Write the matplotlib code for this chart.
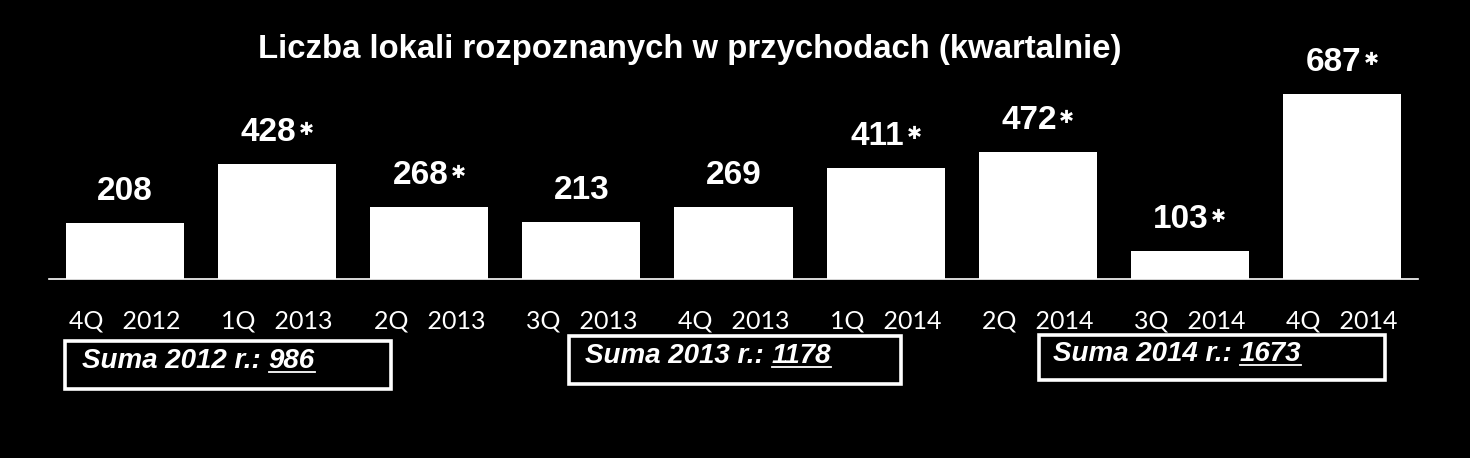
import matplotlib
matplotlib.use("Agg")
import matplotlib.pyplot as plt
from matplotlib.patches import Rectangle
from matplotlib.lines import Line2D

# ---- data ----
categories = ["4Q   2012", "1Q   2013", "2Q   2013", "3Q   2013", "4Q   2013",
              "1Q   2014", "2Q   2014", "3Q   2014", "4Q   2014"]
values = [208, 428, 268, 213, 269, 411, 472, 103, 687]
starred = [False, True, True, False, False, True, True, True, True]
title = "Liczba lokali rozpoznanych w przychodach (kwartalnie)"
sum_labels = ["Suma 2012 r.: ", "Suma 2013 r.: ", "Suma 2014 r.: "]
sum_values = ["986", "1178", "1673"]

W, H = 1470, 458
fig = plt.figure(figsize=(W / 100, H / 100), dpi=100, facecolor="black")

def fx(x):
    return x / W

def fy(y):
    return 1 - y / H

ax = fig.add_axes([fx(49), fy(279), fx(1418) - fx(49), 279 / H])
ax.set_facecolor("black")
x = list(range(len(values)))
ax.bar(x, values, width=0.776, color="white", edgecolor="none")
ax.set_xlim(-0.5, len(values) - 0.5)
ax.set_ylim(0, 1036)
for s in ["top", "left", "right"]:
    ax.spines[s].set_visible(False)
ax.spines["bottom"].set_color("white")
ax.spines["bottom"].set_linewidth(1.2)
ax.set_yticks([])
ax.set_xticks(x)
ax.set_xticklabels(categories, color="white", fontsize=18, family="Lato")
ax.tick_params(axis="x", length=0, pad=22)

for xi, v, st in zip(x, values, starred):
    if st:
        ax.annotate(str(v), (xi, v), xytext=(19, 23), textcoords="offset pixels",
                    ha="right", va="baseline", color="white", fontsize=24,
                    fontweight="bold", family="Liberation Sans")
        ax.annotate("\u2731", (xi, v), xytext=(29, 34), textcoords="offset pixels",
                    ha="center", va="center", color="white", fontsize=13,
                    family="DejaVu Sans")
    else:
        ax.annotate(str(v), (xi, v), xytext=(0, 23), textcoords="offset pixels",
                    ha="center", va="baseline", color="white", fontsize=24,
                    fontweight="bold", family="Liberation Sans")

fig.text(fx(690), fy(58), title, ha="center", va="baseline", color="white",
         fontsize=23.7, fontweight="bold", family="Liberation Sans")

# summary boxes
boxes = [(63, 339, 392, 390, 82, 368), (567, 334, 903, 385, 585, 363),
         (1037, 333, 1386, 381, 1053, 361)]
fig.canvas.draw()
renderer = fig.canvas.get_renderer()
for (x0, y0, x1, y1, tx, ty), lab, val in zip(boxes, sum_labels, sum_values):
    fig.patches.append(Rectangle((fx(x0 + 1.5), fy(y1 - 1.5)), fx(x1 - x0 - 3),
                                 (y1 - y0 - 3) / H, transform=fig.transFigure,
                                 fill=False, edgecolor="white", linewidth=2.6))
    t1 = fig.text(fx(tx), fy(ty), lab, ha="left", va="baseline", color="white",
                  fontsize=20, fontweight="bold", style="italic",
                  family="Liberation Sans")
    bb = t1.get_window_extent(renderer)
    t2 = fig.text(bb.x1 / W, fy(ty), val, ha="left", va="baseline", color="white",
                  fontsize=20, fontweight="bold", style="italic",
                  family="Liberation Sans")
    bb2 = t2.get_window_extent(renderer)
    uy = fy(ty + 3.5)
    fig.lines.append(Line2D([bb2.x0 / W, bb2.x1 / W], [uy, uy],
                            transform=fig.transFigure, color="white", linewidth=1.3))

fig.savefig("out.png", dpi=100, facecolor="black")
